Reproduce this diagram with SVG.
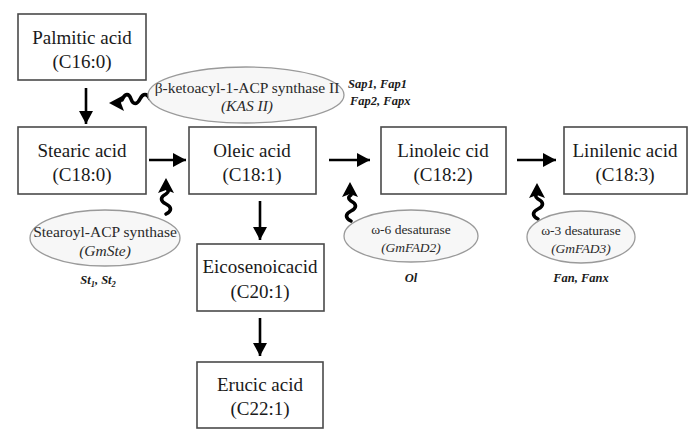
<svg xmlns="http://www.w3.org/2000/svg" width="690" height="430" viewBox="0 0 690 430">
<style>
.box{fill:#fff;stroke:#4a4a4a;stroke-width:1.6}
.bt{font-family:"Liberation Serif",serif;font-size:19px;fill:#1a1a1a;text-anchor:middle}
.ell{fill:#f7f7f7;stroke:#9a9a9a;stroke-width:1.3}
.et{font-family:"Liberation Serif",serif;font-size:13.5px;fill:#2a2a2a;text-anchor:middle}
.big{font-size:15.5px}
.it{font-style:italic}
.gl{font-family:"Liberation Serif",serif;font-size:12.5px;font-weight:bold;font-style:italic;fill:#1a1a1a}
.ar{stroke:#000;stroke-width:2.6;fill:none}
.wv{stroke:#000;stroke-width:3.6;fill:none;stroke-linecap:round}
.hd{fill:#000}
</style>
<defs>
<marker id="ah" markerUnits="userSpaceOnUse" markerWidth="14" markerHeight="14" refX="13" refY="7" orient="auto">
<path d="M0,0 L13,7 L0,14 z" fill="#000"/>
</marker>
</defs>
<rect width="690" height="430" fill="#fff"/>
<g id="connectors">
<line class="ar" x1="86" y1="88" x2="86" y2="124" marker-end="url(#ah)"/>
<line class="ar" x1="149" y1="160" x2="186" y2="160" marker-end="url(#ah)"/>
<line class="ar" x1="329" y1="160" x2="370" y2="160" marker-end="url(#ah)"/>
<line class="ar" x1="517" y1="160" x2="556" y2="160" marker-end="url(#ah)"/>
<line class="ar" x1="260" y1="201" x2="260" y2="240" marker-end="url(#ah)"/>
<line class="ar" x1="260" y1="318" x2="260" y2="356" marker-end="url(#ah)"/>
<path class="wv" d="M150,99 c-3,-6 -7,-6 -10,0 c-3,6 -7,6 -9,0 c-2,-6 -6,-6 -9,1"/>
<path class="hd" d="M109,103 L124,95 L121,103 L124,111 z"/>
<path class="wv" d="M166,214 c6,-3 6,-7 0,-10 c-6,-3 -6,-7 0,-10 c3,-2 3,-4 0,-6"/>
<path class="hd" d="M166,178 L158,193 L166,190 L174,193 z"/>
<path class="wv" d="M351,221 c-6,-3 -6,-7 0,-10 c6,-3 6,-7 0,-10 c-3,-2 -3,-4 0,-6"/>
<path class="hd" d="M350,182 L342,197 L350,194 L358,197 z"/>
<path class="wv" d="M538,219 c-6,-3 -6,-7 0,-10 c6,-3 6,-7 0,-10 c-3,-2 -3,-4 0,-6"/>
<path class="hd" d="M537,183 L529,198 L537,195 L545,198 z"/>
</g>
<g id="palmitic"><rect class="box" x="18" y="14" width="128" height="66"/><text class="bt" x="82" y="44">Palmitic acid</text><text class="bt" x="82" y="68">(C16:0)</text></g>
<g id="stearic"><rect class="box" x="18" y="127" width="128" height="67"/><text class="bt" x="82" y="157">Stearic acid</text><text class="bt" x="82" y="181">(C18:0)</text></g>
<g id="oleic"><rect class="box" x="189" y="127" width="127" height="67"/><text class="bt" x="252" y="157">Oleic acid</text><text class="bt" x="252" y="181">(C18:1)</text></g>
<g id="linoleic"><rect class="box" x="381" y="127" width="125" height="67"/><text class="bt" x="443" y="157">Linoleic cid</text><text class="bt" x="443" y="181">(C18:2)</text></g>
<g id="linilenic"><rect class="box" x="564" y="127" width="123" height="67"/><text class="bt" x="625" y="157">Linilenic acid</text><text class="bt" x="625" y="181">(C18:3)</text></g>
<g id="eicosenoic"><rect class="box" x="197" y="244" width="127" height="67"/><text class="bt" x="260" y="273">Eicosenoicacid</text><text class="bt" x="260" y="298">(C20:1)</text></g>
<g id="erucic"><rect class="box" x="197" y="362" width="126" height="66"/><text class="bt" x="260" y="391">Erucic acid</text><text class="bt" x="260" y="415">(C22:1)</text></g>
<g id="kas"><ellipse class="ell" cx="246" cy="95" rx="98" ry="28"/><text class="et big" x="247" y="93">β-ketoacyl-1-ACP synthase II</text><text class="et big it" x="247" y="111">(KAS II)</text>
<text class="gl" x="348" y="88">Sap1, Fap1</text><text class="gl" x="350" y="105">Fap2, Fapx</text></g>
<g id="stearoyl"><ellipse class="ell" cx="105" cy="238" rx="75" ry="28"/><text class="et big" x="105" y="237">Stearoyl-ACP synthase</text><text class="et big it" x="105" y="256">(GmSte)</text>
<text class="gl" x="98" y="284" text-anchor="middle">St<tspan font-size="8.5" dy="3">1</tspan><tspan dy="-3">, St</tspan><tspan font-size="8.5" dy="3">2</tspan></text></g>
<g id="fad2"><ellipse class="ell" cx="411" cy="236" rx="67" ry="26"/><text class="et" x="411" y="234">ω-6 desaturase</text><text class="et it" x="411" y="252">(GmFAD2)</text>
<text class="gl" x="411" y="282" text-anchor="middle">Ol</text></g>
<g id="fad3"><ellipse class="ell" cx="581" cy="237" rx="54" ry="26"/><text class="et" x="581" y="235">ω-3 desaturase</text><text class="et it" x="581" y="253">(GmFAD3)</text>
<text class="gl" x="581" y="282" text-anchor="middle">Fan, Fanx</text></g>
</svg>
